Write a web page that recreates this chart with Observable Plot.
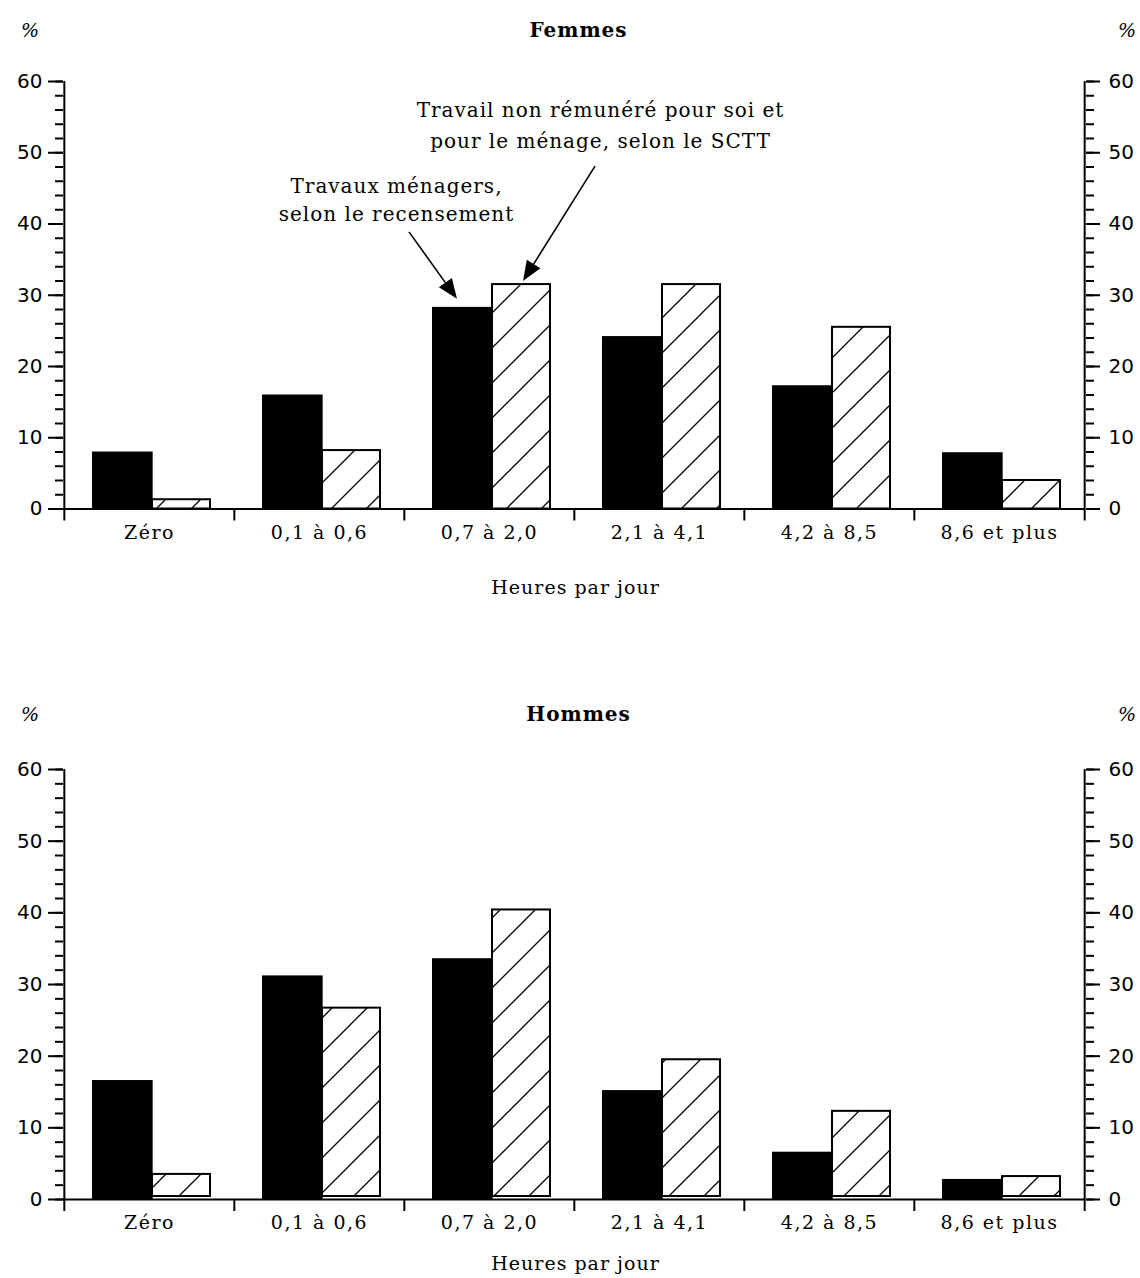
<!DOCTYPE html>
<html>
<head>
<meta charset="utf-8">
<script src="https://cdn.jsdelivr.net/npm/d3@7"></script>
<script src="https://cdn.jsdelivr.net/npm/@observablehq/plot@0.6"></script>
<style>
  html, body { margin: 0; padding: 0; background: #fff; }
  #charts { width: 1140px; }
  #charts svg { display: block; }
</style>
</head>
<body>
<svg width="0" height="0" style="position:absolute">
  <defs>
    <pattern id="hatch" patternUnits="userSpaceOnUse" width="35" height="35">
      <rect width="35" height="35" fill="#fff"/>
      <path d="M0,35L35,0M-5,5L5,-5M30,40L40,30" stroke="#000" stroke-width="1.3" fill="none"/>
    </pattern>
  </defs>
</svg>
<div id="charts"></div>
<script>
// ---- data ----
const categories = ["Zéro", "0,1 à 0,6", "0,7 à 2,0", "2,1 à 4,1", "4,2 à 8,5", "8,6 et plus"];
const seriesNames = ["Travaux ménagers, selon le recensement", "Travail non rémunéré pour soi et pour le ménage, selon le SCTT"];
const femmesRecensement = [8.0, 16.0, 28.3, 24.2, 17.3, 7.9];
const femmesSCTT = [1.3, 8.2, 31.5, 31.5, 25.5, 4.0];
const hommesRecensement = [16.6, 31.2, 33.6, 15.2, 6.6, 2.8];
const hommesSCTT = [3.5, 26.7, 40.4, 19.5, 12.3, 3.2];
const yTicks = [0, 10, 20, 30, 40, 50, 60];
const yMinorTicks = d3.range(0, 61, 2);
const panelTitles = ["Femmes", "Hommes"];
const xLabel = "Heures par jour";
const unitLabel = "%";
const noteSCTT = "Travail non rémunéré pour soi et\npour le ménage, selon le SCTT";
const noteRecensement = "Travaux ménagers,\nselon le recensement";

// ---- layout ----
const W = 1140, ML = 63, MR = 55;
const BW = (W - ML - MR) / categories.length;
const serif = "DejaVu Serif";
const sans = "DejaVu Sans";

function rows(rec, sctt) {
  return categories.flatMap((c, i) => [
    {category: c, series: seriesNames[0], value: rec[i]},
    {category: c, series: seriesNames[1], value: sctt[i]}
  ]);
}

function label(text, frameAnchor, dx, dy, extra = {}) {
  return Plot.text([text], {text: d => d, frameAnchor, dx, dy, textAnchor: "middle", lineAnchor: "middle",
    fontSize: 19, fontFamily: serif, ...extra});
}

function panel({title, rec, sctt, height, marginTop, marginBottom, titleY, labelY, hatchInsetBottom, annotate}) {
  const data = rows(rec, sctt);
  const bottomY = height - marginBottom;
  const marks = [
    Plot.barY(data.filter(d => d.series === seriesNames[0]), {
      x: "category", y: "value", fill: "black", insetLeft: 28, insetRight: BW - 89
    }),
    Plot.barY(data.filter(d => d.series === seriesNames[1]), {
      x: "category", y: "value", fill: "url(#hatch)", stroke: "black", strokeWidth: 2,
      insetLeft: 88, insetRight: 24, insetBottom: hatchInsetBottom
    }),
    // axis lines
    Plot.ruleY([0], {stroke: "black", strokeWidth: 2}),
    Plot.ruleX([categories[0]], {x: d => d, y1: 0, y2: 60, dx: -BW / 2, stroke: "black", strokeWidth: 2}),
    Plot.ruleX([categories[categories.length - 1]], {x: d => d, y1: 0, y2: 60, dx: BW / 2, stroke: "black", strokeWidth: 2}),
    // x boundary ticks
    Plot.ruleX(categories, {x: d => d, y1: 0, y2: 0, insetBottom: -12, dx: -BW / 2, stroke: "black", strokeWidth: 2}),
    Plot.ruleX([categories[categories.length - 1]], {x: d => d, y1: 0, y2: 0, insetBottom: -12, dx: BW / 2, stroke: "black", strokeWidth: 2}),
    Plot.axisX({tickSize: 0, tickPadding: 16, label: null, fontSize: 19, fontFamily: serif}),
    // y axes
    Plot.axisY({anchor: "left", ticks: yTicks, tickSize: 15, tickPadding: 6, label: null, fontSize: 20, fontFamily: sans, strokeWidth: 2}),
    Plot.axisY({anchor: "left", ticks: yMinorTicks, tickSize: 8, tickFormat: () => "", label: null, strokeWidth: 2}),
    Plot.axisY({anchor: "right", ticks: yTicks, tickSize: 14, tickPadding: 9, label: null, fontSize: 20, fontFamily: sans, strokeWidth: 2}),
    Plot.axisY({anchor: "right", ticks: yMinorTicks, tickSize: 8, tickFormat: () => "", label: null, strokeWidth: 2}),
    // titles
    label(unitLabel, "top-left", 30 - ML, titleY - marginTop, {fontStyle: "italic"}),
    label(unitLabel, "top-right", 1127 - (W - MR), titleY - marginTop, {fontStyle: "italic"}),
    label(title, "top", 4, titleY - marginTop, {fontSize: 20, fontWeight: "bold"}),
    label(xLabel, "bottom", 1, labelY - bottomY)
  ];
  if (annotate) {
    marks.push(
      label(noteSCTT, "top-left", 600 - ML, 122 - marginTop, {lineHeight: 1.55, fontSize: 20}),
      label(noteRecensement, "top-left", 396 - ML, 198 - marginTop, {lineHeight: 1.4, fontSize: 20}),
      (index, scales) => {
        const g = d3.create("svg:g").attr("aria-label", "annotation arrows");
        const cat = categories[2];
        const x0 = scales.x(cat);
        const specs = [
          {tip: [x0 + 53, scales.y(rec[2]) - 8], start: [x0 + 5, scales.y(rec[2]) - 75]},
          {tip: [x0 + 119, scales.y(sctt[2]) - 3], start: [x0 + 191, scales.y(sctt[2]) - 118]}
        ];
        for (const {tip, start} of specs) {
          const ang = Math.atan2(tip[1] - start[1], tip[0] - start[0]);
          const L = 20, Wd = 8;
          const bx = tip[0] - L * Math.cos(ang), by = tip[1] - L * Math.sin(ang);
          const px = -Math.sin(ang) * Wd, py = Math.cos(ang) * Wd;
          g.append("line").attr("x1", start[0]).attr("y1", start[1]).attr("x2", bx).attr("y2", by)
            .attr("stroke", "black").attr("stroke-width", 1.6);
          g.append("path").attr("d", `M${tip[0]},${tip[1]}L${bx + px},${by + py}L${bx - px},${by - py}Z`).attr("fill", "black");
        }
        return g.node();
      }
    );
  }
  return Plot.plot({
    width: W, height, marginTop, marginBottom, marginLeft: ML, marginRight: MR,
    x: {domain: categories, padding: 0},
    y: {domain: [0, 60]},
    style: {background: "white", color: "black", fontFamily: serif, overflow: "visible"},
    marks
  });
}

const chartFemmes = panel({title: panelTitles[0], rec: femmesRecensement, sctt: femmesSCTT,
  height: 640, marginTop: 81, marginBottom: 131.5, titleY: 30, labelY: 587, hatchInsetBottom: 0, annotate: true});
const chartHommes = panel({title: panelTitles[1], rec: hommesRecensement, sctt: hommesSCTT,
  height: 638, marginTop: 129, marginBottom: 79, titleY: 74, labelY: 623, hatchInsetBottom: 3, annotate: false});

for (const svg of [chartFemmes, chartHommes]) {
  d3.select(svg).selectAll('g[aria-label="x-axis tick label"] text').style("letter-spacing", "1.5px");
  d3.select(svg).selectAll('g[aria-label="text"] text').style("letter-spacing", "1px");
  document.getElementById("charts").appendChild(svg);
}
</script>
</body>
</html>
